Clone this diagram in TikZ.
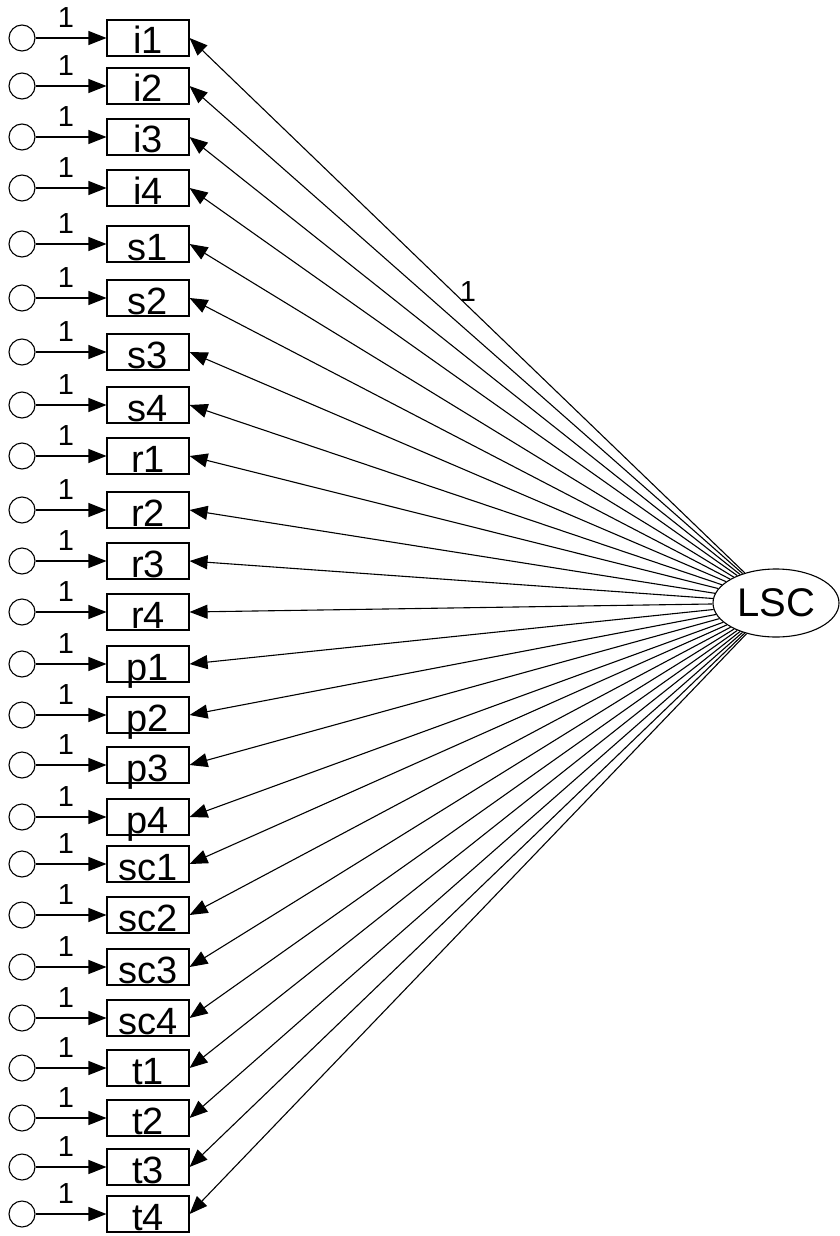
\documentclass[tikz,border=0pt]{standalone}
\usepackage{fontspec}
\setmainfont{Liberation Sans}
\usetikzlibrary{arrows.meta,shapes.geometric}
\begin{document}
\begin{tikzpicture}[x=1pt,y=-1pt,
  err/.style={circle,draw,minimum size=26pt,inner sep=0pt,line width=1.1pt},
  obs/.style={rectangle,draw,minimum width=82pt,minimum height=36pt,inner sep=0pt,text height=32pt,text depth=0pt,font=\fontsize{38}{38}\selectfont,line width=1.1pt},
  lat/.style={ellipse,draw,minimum width=126pt,minimum height=68pt,inner sep=0pt,font=\fontsize{40}{40}\selectfont,line width=1.1pt},
  lpath/.style={line width=1.1pt,-{Triangle[length=18pt,width=14pt]}},
  wlabel/.style={font=\fontsize{29}{29}\selectfont,inner sep=0pt}]
\useasboundingbox (0,0) rectangle (840,1236);
\node[lat] (lsc) at (776,603) {LSC};
\foreach \n/\y [count=\k] in {i1/38,i2/86,i3/137,i4/188,s1/244,s2/298,s3/352,s4/405,r1/456,r2/510,r3/561,r4/612,p1/664,p2/715,p3/765,p4/817,sc1/864,sc2/915,sc3/967,sc4/1018,t1/1068,t2/1118,t3/1167,t4/1214} {
  \node[err] (e\k) at (22,\y) {};
  \node[obs] (\n) at (148,\y) {\n};
  \draw[lpath] (e\k) -- (\n);
  \node[wlabel] (w\k) at (66,\y-20) {1};
  \draw[lpath] (lsc) -- (\n.east);
}
\node[wlabel] (wtop) at (468,292) {1};
\end{tikzpicture}
\end{document}
